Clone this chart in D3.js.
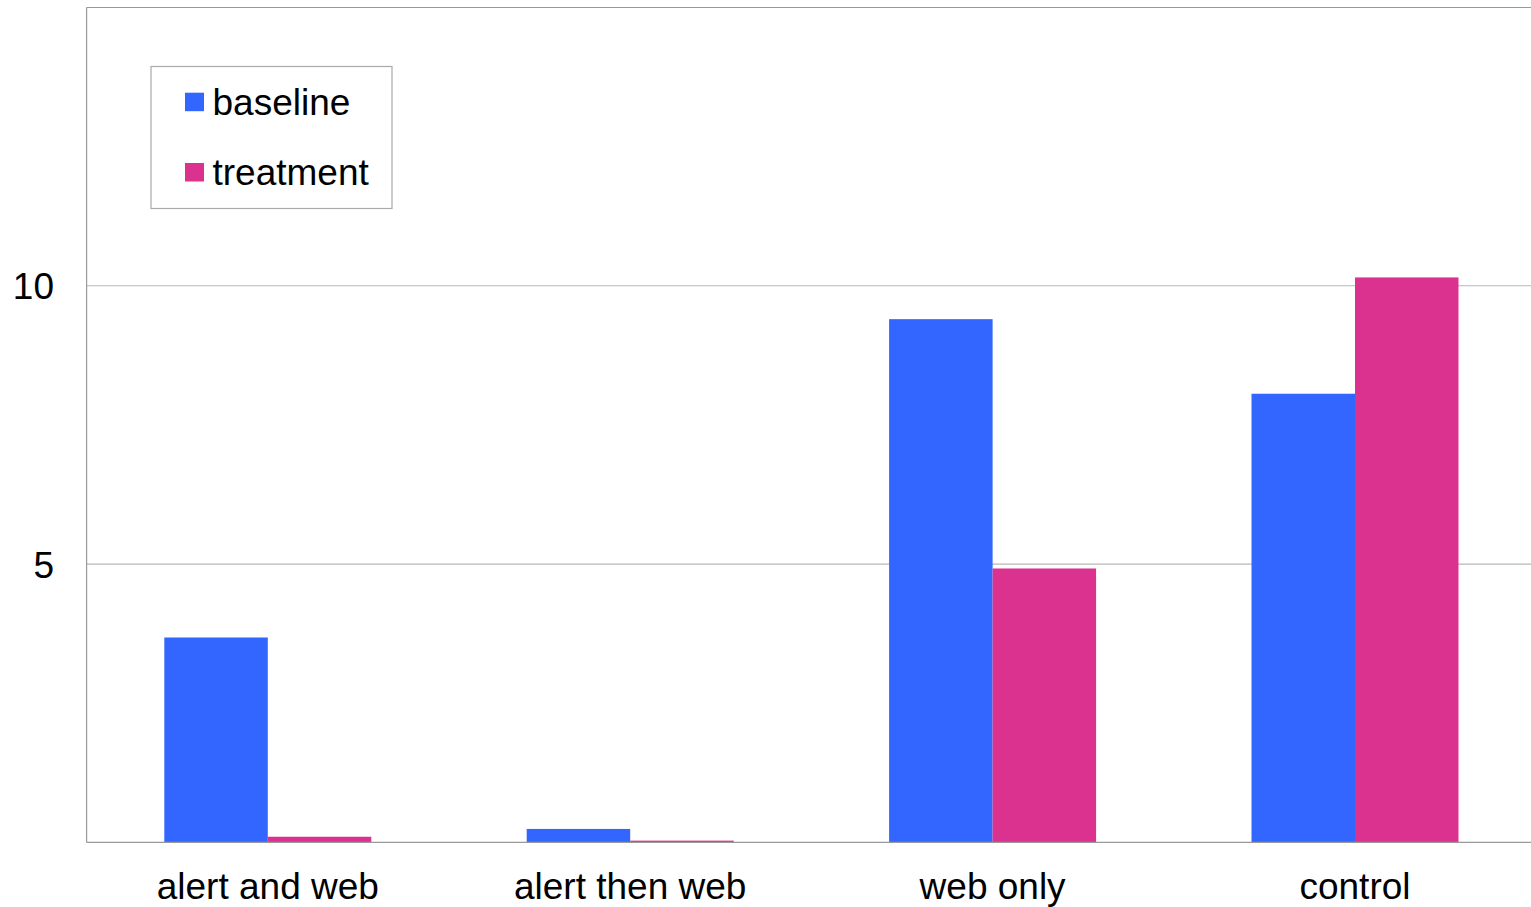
<!DOCTYPE html>
<html>
<head>
<meta charset="utf-8">
<script src="https://cdn.jsdelivr.net/npm/d3@7"></script>
<style>
  html, body { margin: 0; padding: 0; background: #fff; }
  svg { display: block; font-family: "Liberation Sans", Arial, sans-serif; }
</style>
</head>
<body>
<svg id="chart" width="1531" height="907"></svg>
<script>
// Grouped bar chart: baseline vs treatment per condition
const categories = ["alert and web", "alert then web", "web only", "control"];
const seriesNames = ["baseline", "treatment"];
const baseline = [3.68, 0.24, 9.4, 8.06];
const treatment = [0.1, 0.03, 4.92, 10.15];
const yTicks = [5, 10];
const colors = ["#3366ff", "#db3290"];

const W = 1531, H = 907;
const plot = { left: 86.6, right: 1536.2, top: 7.5, bottom: 842.3 };

const svg = d3.select("#chart");

const x = d3.scaleBand()
  .domain(categories)
  .range([plot.left, plot.right])
  .paddingInner(0.4288)
  .paddingOuter(0.2144);

const xInner = d3.scaleBand()
  .domain(seriesNames)
  .range([0, x.bandwidth()]);

const y = d3.scaleLinear()
  .domain([0, 15])
  .range([plot.bottom, plot.top]);

const color = d3.scaleOrdinal().domain(seriesNames).range(colors);

// horizontal gridlines
svg.append("g")
  .selectAll("line")
  .data(yTicks)
  .join("line")
  .attr("x1", plot.left)
  .attr("x2", W)
  .attr("y1", d => y(d))
  .attr("y2", d => y(d))
  .attr("stroke", "#b8b8b8")
  .attr("stroke-width", 1.2);

// top and left frame
svg.append("line")
  .attr("x1", plot.left).attr("x2", W)
  .attr("y1", plot.top).attr("y2", plot.top)
  .attr("stroke", "#999").attr("stroke-width", 1.2);
svg.append("line")
  .attr("x1", plot.left).attr("x2", plot.left)
  .attr("y1", plot.top).attr("y2", plot.bottom)
  .attr("stroke", "#999").attr("stroke-width", 1.2);

// bars
const rows = categories.map((c, i) => ({ category: c, values: [baseline[i], treatment[i]] }));

svg.append("g")
  .selectAll("g")
  .data(rows)
  .join("g")
  .attr("transform", d => `translate(${x(d.category)},0)`)
  .selectAll("rect")
  .data(d => seriesNames.map((s, j) => ({ series: s, value: d.values[j] })))
  .join("rect")
  .attr("x", d => xInner(d.series))
  .attr("width", xInner.bandwidth())
  .attr("y", d => y(d.value))
  .attr("height", d => y(0) - y(d.value))
  .attr("fill", d => color(d.series));

// baseline axis line
svg.append("line")
  .attr("x1", plot.left).attr("x2", W)
  .attr("y1", plot.bottom).attr("y2", plot.bottom)
  .attr("stroke", "#999").attr("stroke-width", 1.2);

// y tick labels
svg.append("g")
  .selectAll("text")
  .data(yTicks)
  .join("text")
  .attr("x", 54)
  .attr("y", d => y(d) + 13.5)
  .attr("text-anchor", "end")
  .attr("font-size", 37)
  .attr("fill", "#000")
  .text(d => d);

// category labels
svg.append("g")
  .selectAll("text")
  .data(categories)
  .join("text")
  .attr("x", d => x(d) + x.bandwidth() / 2)
  .attr("y", 899)
  .attr("text-anchor", "middle")
  .attr("font-size", 37)
  .attr("fill", "#000")
  .text(d => d);

// legend
const legend = svg.append("g");
legend.append("rect")
  .attr("x", 151).attr("y", 66.5)
  .attr("width", 241).attr("height", 142)
  .attr("fill", "#fff")
  .attr("stroke", "#aaa")
  .attr("stroke-width", 1.2);

const legendItems = legend.selectAll("g.item")
  .data(seriesNames)
  .join("g")
  .attr("class", "item")
  .attr("transform", (d, i) => `translate(185,${92.7 + i * 70.3})`);

legendItems.append("rect")
  .attr("width", 19).attr("height", 18.5)
  .attr("fill", d => color(d));

legendItems.append("text")
  .attr("x", 27.5)
  .attr("y", 22.3)
  .attr("font-size", 37)
  .attr("fill", "#000")
  .text(d => d);
</script>
</body>
</html>
